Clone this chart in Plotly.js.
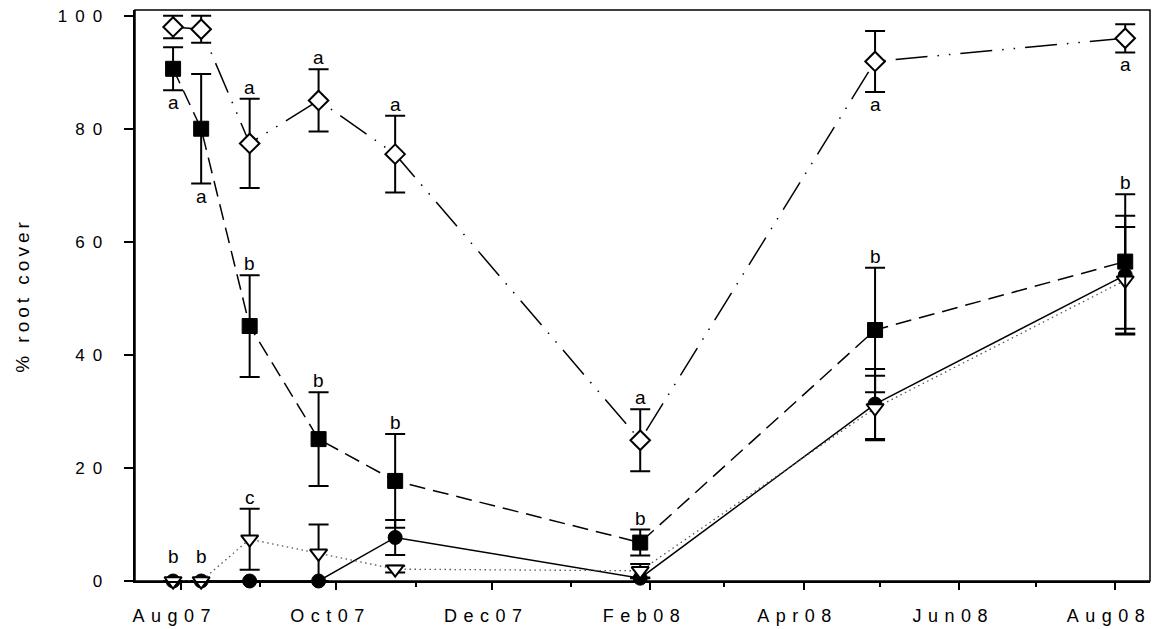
<!DOCTYPE html>
<html>
<head>
<meta charset="utf-8">
<script src="https://cdn.plot.ly/plotly-3.0.1.min.js"></script>
<style>
  html, body { margin: 0; padding: 0; background: #fff; }
  #chart { width: 1152px; height: 629px; }
  .xtick text { letter-spacing: 6.5px; }
  .ytick text { letter-spacing: 8px; }
  .ytitle { letter-spacing: 4px; }
</style>
</head>
<body>
<div id="chart"></div>
<script>
// ---- data ----
const dates = ['2007-07-29', '2007-08-09', '2007-08-28', '2007-09-24', '2007-10-24', '2008-01-28', '2008-04-29', '2008-08-05'];

const diamondVals = [98.0, 97.6, 77.4, 85.0, 75.5, 24.9, 91.9, 96.0];
const diamondErr  = [2.0, 2.4, 7.9, 5.5, 6.8, 5.5, 5.4, 2.5];
const diamondLetters = ['', '', 'a', 'a', 'a', 'a', 'a', 'a'];
const diamondLetterPos = ['', '', 'above', 'above', 'above', 'above', 'below', 'below'];

const squareVals = [90.6, 80.0, 45.1, 25.1, 17.7, 6.8, 44.4, 56.5];
const squareErr  = [3.8, 9.7, 9.0, 8.3, 8.3, 2.3, 11.0, 11.9];
const squareLetters = ['a', 'a', 'b', 'b', 'b', 'b', 'b', 'b'];
const squareLetterPos = ['below', 'below', 'above', 'above', 'above', 'above', 'above', 'above'];

const circleVals = [0, 0, 0, 0, 7.7, 0.5, 31.3, 54.1];
const circleErr  = [0, 0, 0, 0, 3.1, 0, 6.2, 10.5];

const triangleVals = [0, 0, 7.4, 4.9, 2.1, 1.8, 30.6, 53.2];
const triangleErr  = [0, 0, 5.4, 5.1, 0.6, 1.2, 5.7, 9.4];
const triangleLetters = ['b', 'b', 'c', '', '', '', '', ''];
const triangleLetterPos = ['above', 'above', 'above', '', '', '', '', ''];

const yTickVals = [0, 20, 40, 60, 80, 100];

// ---- styling ----
const FONT = 'Liberation Sans, Arial, Helvetica, sans-serif';
const errStyle = { type: 'data', visible: true, color: '#000', thickness: 2, width: 10 };

function errObj(arr) {
  return Object.assign({}, errStyle, { array: arr, arrayminus: arr });
}

const traces = [
  {
    x: dates, y: circleVals, type: 'scatter', mode: 'lines+markers', cliponaxis: false,
    line: { color: '#000', width: 1.5 },
    marker: { symbol: 'circle', size: 14, color: '#000', line: { color: '#000', width: 1 } },
    error_y: errObj(circleErr), showlegend: false
  },
  {
    x: dates, y: triangleVals, type: 'scatter', mode: 'lines+markers', cliponaxis: false,
    line: { color: '#555', width: 1.3, dash: '1.5px,3.5px' },
    marker: { symbol: 'triangle-down', size: 15, color: '#fff', line: { color: '#000', width: 2 } },
    error_y: errObj(triangleErr), showlegend: false
  },
  {
    x: dates, y: squareVals, type: 'scatter', mode: 'lines+markers', cliponaxis: false,
    line: { color: '#000', width: 1.5, dash: '16px,8px' },
    marker: { symbol: 'square', size: 15, color: '#000', line: { color: '#000', width: 1 } },
    error_y: errObj(squareErr), showlegend: false
  },
  {
    x: dates, y: diamondVals, type: 'scatter', mode: 'lines+markers', cliponaxis: false,
    line: { color: '#000', width: 1.5, dash: '32px,10px,1.5px,10px,1.5px,10px' },
    marker: { symbol: 'diamond', size: 15, color: '#fff', line: { color: '#000', width: 2 } },
    error_y: errObj(diamondErr), showlegend: false
  }
];

function letterAnnots(xs, ys, errs, letters, pos) {
  const out = [];
  for (let i = 0; i < xs.length; i++) {
    if (!letters[i]) continue;
    const above = pos[i] === 'above';
    out.push({
      x: xs[i],
      y: above ? ys[i] + errs[i] : ys[i] - errs[i],
      xref: 'x', yref: 'y',
      text: letters[i],
      showarrow: false,
      xanchor: 'center',
      yanchor: above ? 'bottom' : 'top',
      yshift: above ? (errs[i] > 0 ? -1 : 12) : 0,
      font: { family: FONT, size: 19, color: '#000' }
    });
  }
  return out;
}

const annotations = []
  .concat(letterAnnots(dates, diamondVals, diamondErr, diamondLetters, diamondLetterPos))
  .concat(letterAnnots(dates, squareVals, squareErr, squareLetters, squareLetterPos))
  .concat(letterAnnots(dates, triangleVals, triangleErr, triangleLetters, triangleLetterPos));

const layout = {
  width: 1152, height: 629,
  margin: { l: 135, r: 2, t: 10, b: 48 },
  paper_bgcolor: '#fff', plot_bgcolor: '#fff',
  font: { family: FONT, color: '#000' },
  showlegend: false,
  xaxis: {
    type: 'date',
    range: ['2007-07-14 02:00', '2008-08-14 17:00'],
    tick0: '2007-08-01', dtick: 'M2', tickformat: '%b%y',
    ticks: 'outside', ticklen: 7, tickwidth: 2, tickcolor: '#000',
    minor: { tick0: '2007-08-01', dtick: 'M1', ticks: 'outside', ticklen: 4, tickwidth: 2, tickcolor: '#000', showgrid: false },
    showline: true, linewidth: 2, linecolor: '#000',
    showgrid: false, zeroline: false,
    tickfont: { family: FONT, size: 18, color: '#000' },
    ticklabelstandoff: 10,
    ticklabelshift: -6
  },
  yaxis: {
    range: [0, 101],
    tickvals: yTickVals,
    ticks: 'outside', ticklen: 9, tickwidth: 2, tickcolor: '#000',
    showline: true, linewidth: 2.5, linecolor: '#000',
    showgrid: false, zeroline: false,
    tickfont: { family: FONT, size: 17, color: '#000' },
    ticklabelstandoff: 10,
    title: { text: '% root cover', font: { family: FONT, size: 19, color: '#000' }, standoff: 23 }
  },
  shapes: [
    { type: 'rect', xref: 'paper', yref: 'paper', x0: 0, x1: 1, y0: 0, y1: 1,
      line: { color: '#000', width: 1.5 }, layer: 'below' }
  ],
  annotations: annotations
};

Plotly.newPlot('chart', traces, layout, { displayModeBar: false, staticPlot: true });
</script>
</body>
</html>
